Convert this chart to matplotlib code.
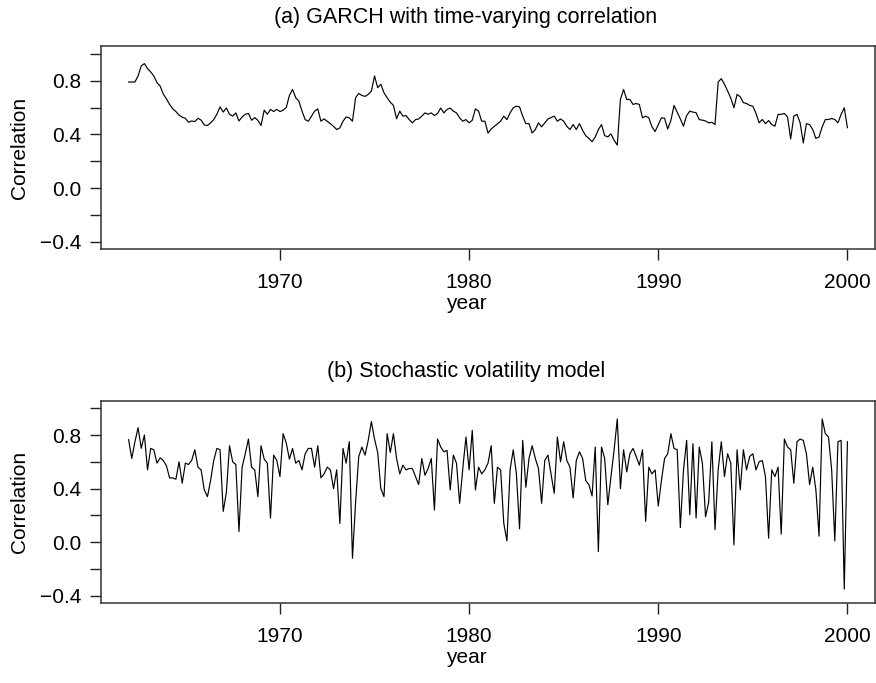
import numpy as np
import matplotlib
matplotlib.use("Agg")
import matplotlib.pyplot as plt

plt.rcParams['font.family'] = ['Liberation Sans', 'DejaVu Sans']

# bimonthly time grid, Jan 1962 .. Jan 2000
start_year = 1962.0
step = 1 / 6

# (a) GARCH with time-varying correlation
corr_garch = [
    0.79, 0.79, 0.79, 0.835, 0.91, 0.927, 0.89, 0.865, 0.835, 0.785,
    0.76, 0.70, 0.665, 0.623, 0.59, 0.57, 0.543, 0.528, 0.52, 0.49,
    0.50, 0.495, 0.52, 0.506, 0.47, 0.466, 0.486, 0.51, 0.55, 0.605,
    0.566, 0.596, 0.55, 0.536, 0.56, 0.50, 0.53, 0.55, 0.556, 0.505,
    0.525, 0.505, 0.466, 0.58, 0.55, 0.586, 0.57, 0.586, 0.57, 0.58,
    0.60, 0.69, 0.735, 0.673, 0.648, 0.573, 0.51, 0.498, 0.536, 0.573,
    0.59, 0.498, 0.515, 0.498, 0.48, 0.46, 0.436, 0.448, 0.498, 0.53,
    0.523, 0.498, 0.673, 0.705, 0.69, 0.683, 0.698, 0.723, 0.835, 0.748,
    0.773, 0.71, 0.673, 0.64, 0.616, 0.516, 0.573, 0.536, 0.54, 0.51,
    0.486, 0.51, 0.515, 0.536, 0.56, 0.55, 0.56, 0.54, 0.556, 0.596,
    0.56, 0.586, 0.596, 0.573, 0.56, 0.523, 0.498, 0.51, 0.486, 0.505,
    0.59, 0.573, 0.498, 0.498, 0.41, 0.44, 0.46, 0.478, 0.498, 0.536,
    0.51, 0.56, 0.598, 0.61, 0.605, 0.536, 0.48, 0.48, 0.41, 0.436,
    0.486, 0.456, 0.486, 0.515, 0.525, 0.536, 0.498, 0.515, 0.498, 0.46,
    0.436, 0.473, 0.436, 0.48, 0.43, 0.39, 0.37, 0.345, 0.38, 0.436,
    0.473, 0.391, 0.381, 0.404, 0.356, 0.32, 0.66, 0.735, 0.66, 0.66,
    0.623, 0.63, 0.623, 0.523, 0.536, 0.523, 0.456, 0.421, 0.473, 0.523,
    0.52, 0.44, 0.503, 0.616, 0.566, 0.515, 0.461, 0.54, 0.573, 0.566,
    0.561, 0.51, 0.506, 0.50, 0.486, 0.49, 0.473, 0.79, 0.815, 0.773,
    0.723, 0.67, 0.598, 0.698, 0.68, 0.636, 0.63, 0.616, 0.61, 0.556,
    0.486, 0.511, 0.48, 0.503, 0.473, 0.461, 0.549, 0.549, 0.556, 0.531,
    0.366, 0.536, 0.549, 0.486, 0.336, 0.48, 0.473, 0.436, 0.37, 0.381,
    0.456, 0.511, 0.511, 0.518, 0.511, 0.486, 0.549, 0.598, 0.45,
]

# (b) Stochastic volatility model
corr_sv = [
    0.765, 0.625, 0.75, 0.855, 0.70, 0.80, 0.54, 0.70, 0.69, 0.59,
    0.63, 0.61, 0.57, 0.48, 0.48, 0.47, 0.60, 0.44, 0.59, 0.58,
    0.61, 0.69, 0.56, 0.54, 0.39, 0.34, 0.46, 0.61, 0.70, 0.69,
    0.23, 0.37, 0.72, 0.60, 0.58, 0.08, 0.56, 0.66, 0.77, 0.56,
    0.54, 0.34, 0.72, 0.62, 0.59, 0.18, 0.65, 0.61, 0.49, 0.81,
    0.74, 0.62, 0.70, 0.59, 0.61, 0.54, 0.66, 0.70, 0.70, 0.56,
    0.72, 0.48, 0.51, 0.56, 0.54, 0.40, 0.54, 0.14, 0.70, 0.59,
    0.75, -0.12, 0.30, 0.64, 0.71, 0.65, 0.76, 0.90, 0.77, 0.67,
    0.40, 0.34, 0.81, 0.67, 0.81, 0.625, 0.51, 0.575, 0.54, 0.55,
    0.55, 0.49, 0.43, 0.625, 0.50, 0.55, 0.625, 0.24, 0.77, 0.71,
    0.675, 0.685, 0.39, 0.65, 0.59, 0.29, 0.55, 0.785, 0.54, 0.835,
    0.39, 0.56, 0.51, 0.54, 0.59, 0.72, 0.29, 0.56, 0.54, 0.14,
    0.01, 0.54, 0.69, 0.51, 0.10, 0.76, 0.41, 0.625, 0.72, 0.625,
    0.55, 0.29, 0.61, 0.65, 0.51, 0.365, 0.785, 0.60, 0.75, 0.61,
    0.56, 0.33, 0.61, 0.675, 0.625, 0.46, 0.43, 0.345, 0.71, -0.07,
    0.71, 0.625, 0.28, 0.49, 0.69, 0.92, 0.40, 0.69, 0.525, 0.66,
    0.70, 0.64, 0.575, 0.69, 0.155, 0.56, 0.51, 0.54, 0.27, 0.46,
    0.625, 0.66, 0.81, 0.70, 0.69, 0.11, 0.54, 0.76, 0.205, 0.735,
    0.18, 0.71, 0.59, 0.19, 0.30, 0.75, 0.094, 0.54, 0.75, 0.49,
    0.66, 0.59, -0.02, 0.69, 0.39, 0.69, 0.54, 0.64, 0.66, 0.54,
    0.60, 0.61, 0.49, 0.03, 0.54, 0.49, 0.56, 0.06, 0.77, 0.71,
    0.69, 0.44, 0.75, 0.77, 0.76, 0.66, 0.43, 0.56, 0.39, 0.045,
    0.92, 0.81, 0.785, 0.54, 0.01, 0.75, 0.76, -0.35, 0.75,
]

titles = ["(a) GARCH with time-varying correlation", "(b) Stochastic volatility model"]
year_ticks = [1970, 1980, 1990, 2000]
corr_ticks = [-0.4, -0.2, 0.0, 0.2, 0.4, 0.6, 0.8, 1.0]
corr_labels = ["\u22120.4", "", "0.0", "", "0.4", "", "0.8", ""]

fig = plt.figure(figsize=(8.76, 6.83), dpi=100)
ax_a = fig.add_axes([0.1153, 0.635, 0.8836, 0.2972])
ax_b = fig.add_axes([0.1153, 0.1167, 0.8836, 0.2966])

for ax, series, title in zip([ax_a, ax_b], [corr_garch, corr_sv], titles):
    t = start_year + step * np.arange(len(series))
    ax.plot(t, series, color='black', lw=0.85)
    ax.set_xlim(1960.54, 2001.46)
    ax.set_ylim(-0.456, 1.056)
    ax.set_xticks(year_ticks)
    ax.set_yticks(corr_ticks)
    ax.set_yticklabels(corr_labels)
    ax.tick_params(axis='both', direction='out', length=8, width=1,
                   color='#222222', labelsize=15, pad=6)
    ax.tick_params(axis='x', pad=9)
    for sp in ax.spines.values():
        sp.set_color('#333333')
        sp.set_linewidth(1.1)
    ax.set_ylabel("Correlation", fontsize=15)
    ax.yaxis.set_label_coords(-0.0925, 0.5)
    ax.set_xlabel("year", fontsize=15)
    ax.xaxis.set_label_coords(0.4716, -0.222)
    ax.set_title(title, fontsize=15.5, x=0.4716, pad=17)

fig.savefig("out.png", dpi=100)
